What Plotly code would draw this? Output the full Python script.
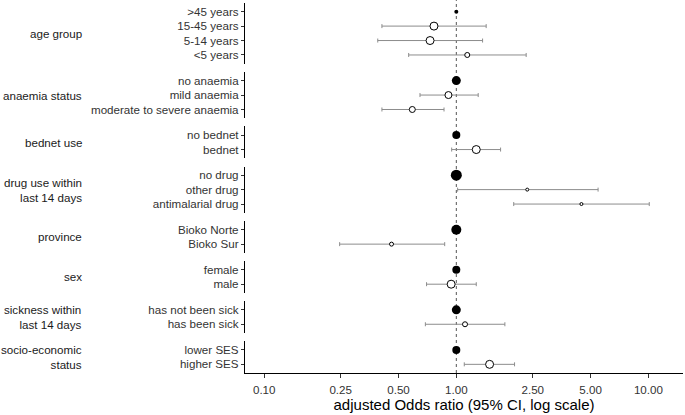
import plotly.graph_objects as go
from plotly.subplots import make_subplots

# ---- data ----
groups = ["age group", "anaemia status", "bednet use", "drug use within<br>last 14 days",
          "province", "sex", "sickness within<br>last 14 days", "socio-economic<br>status"]

levels = [
    [">45 years", "15-45 years", "5-14 years", "<5 years"],
    ["no anaemia", "mild anaemia", "moderate to severe anaemia"],
    ["no bednet", "bednet"],
    ["no drug", "other drug", "antimalarial drug"],
    ["Bioko Norte", "Bioko Sur"],
    ["female", "male"],
    ["has not been sick", "has been sick"],
    ["lower SES", "higher SES"],
]

odds_ratio = [
    [1.0, 0.765, 0.73, 1.14],
    [1.0, 0.91, 0.59],
    [1.0, 1.27],
    [1.0, 2.34, 4.48],
    [1.0, 0.46],
    [1.0, 0.94],
    [1.0, 1.11],
    [1.0, 1.49],
]

ci_low = [
    [None, 0.41, 0.39, 0.565],
    [None, 0.647, 0.41],
    [None, 0.946],
    [None, 1.016, 1.99],
    [None, 0.247],
    [None, 0.70],
    [None, 0.69],
    [None, 1.10],
]

ci_high = [
    [None, 1.43, 1.37, 2.31],
    [None, 1.30, 0.863],
    [None, 1.70],
    [None, 5.47, 10.1],
    [None, 0.87],
    [None, 1.27],
    [None, 1.79],
    [None, 2.01],
]

# relative weight of each estimate (drives point size)
weight = [
    [4, 8, 8, 5],
    [9, 7, 6],
    [8, 8],
    [11, 3, 3],
    [10, 4],
    [8, 8],
    [9, 5],
    [8, 8],
]

tick_vals = [0.10, 0.25, 0.50, 1.00, 2.50, 5.00, 10.00]
tick_text = ["0.10", "0.25", "0.50", "1.00", "2.50", "5.00", "10.00"]

# ---- layout geometry ----
W, H = 685, 415
ML, MR, MT, MB = 245, 2, 3, 42
plot_h = H - MT - MB
gap_px = 8.3

n_rows = len(groups)
heights = [len(l) + 0.2 for l in levels]

fig = make_subplots(rows=n_rows, cols=1, shared_xaxes=True,
                    row_heights=heights, vertical_spacing=gap_px / plot_h)

font_family = "Liberation Sans, Arial, sans-serif"
ci_color = "#8c8c8c"
fs = 11.6

for i in range(n_rows):
    r = i + 1
    n = len(levels[i])
    pos = list(range(1, n + 1))
    ref_x, ref_y, ref_s = [], [], []
    x, y, s, ep, em = [], [], [], [], []
    for j in range(n):
        if ci_low[i][j] is None:
            ref_x.append(odds_ratio[i][j]); ref_y.append(pos[j]); ref_s.append(weight[i][j])
        else:
            x.append(odds_ratio[i][j]); y.append(pos[j]); s.append(weight[i][j])
            ep.append(ci_high[i][j] - odds_ratio[i][j])
            em.append(odds_ratio[i][j] - ci_low[i][j])
    fig.add_trace(go.Scatter(
        x=x, y=y, mode="markers",
        marker=dict(size=s, color="white", opacity=1, line=dict(color="black", width=1)),
        error_x=dict(type="data", symmetric=False, array=ep, arrayminus=em,
                     color=ci_color, thickness=1, width=2),
        showlegend=False, hoverinfo="skip"), row=r, col=1)
    fig.add_trace(go.Scatter(
        x=ref_x, y=ref_y, mode="markers",
        marker=dict(size=ref_s, color="black", opacity=1, line=dict(color="black", width=0)),
        showlegend=False, hoverinfo="skip"), row=r, col=1)

    fig.update_yaxes(row=r, col=1,
                     tickmode="array", tickvals=pos, ticktext=levels[i],
                     range=[n + 0.6, 0.4], showgrid=False, zeroline=False,
                     showline=True, linecolor="black", linewidth=1.2,
                     ticks="outside", ticklen=3, tickcolor="#333333", tickwidth=1,
                     tickfont=dict(family=font_family, size=fs, color="#333333"))
    yname = "y" if r == 1 else f"y{r}"
    fig.add_annotation(text=groups[i], xref="paper", yref=f"{yname} domain",
                       x=(84 - ML) / (W - ML - MR), y=0.5, xanchor="right", yanchor="middle",
                       align="right", showarrow=False,
                       font=dict(family=font_family, size=fs, color="#1a1a1a"))

fig.update_xaxes(type="log", range=[-1.1, 1.18], showgrid=False, zeroline=False,
                 showline=False, ticks="", showticklabels=False)
fig.update_xaxes(row=n_rows, col=1, showline=True, linecolor="black", linewidth=1.2,
                 ticks="outside", ticklen=4, tickcolor="#333333", ticklabelstandoff=2,
                 showticklabels=True, tickmode="array", tickvals=tick_vals, ticktext=tick_text,
                 tickfont=dict(family=font_family, size=fs, color="#333333"),
                 title=dict(text="adjusted Odds ratio (95% CI, log scale)",
                            font=dict(family=font_family, size=15, color="black"),
                            standoff=3))

fig.add_shape(type="line", xref=f"x{n_rows}", yref="paper", x0=1, x1=1, y0=0, y1=1.008,
              line=dict(color="#555555", width=1, dash="3px,3px"), layer="below")

fig.update_layout(width=W, height=H, margin=dict(l=ML, r=MR, t=MT, b=MB),
                  plot_bgcolor="white", paper_bgcolor="white",
                  font=dict(family=font_family))

fig.write_html("out.html", config={"displayModeBar": False},
               post_script="document.body.style.margin='0';")
